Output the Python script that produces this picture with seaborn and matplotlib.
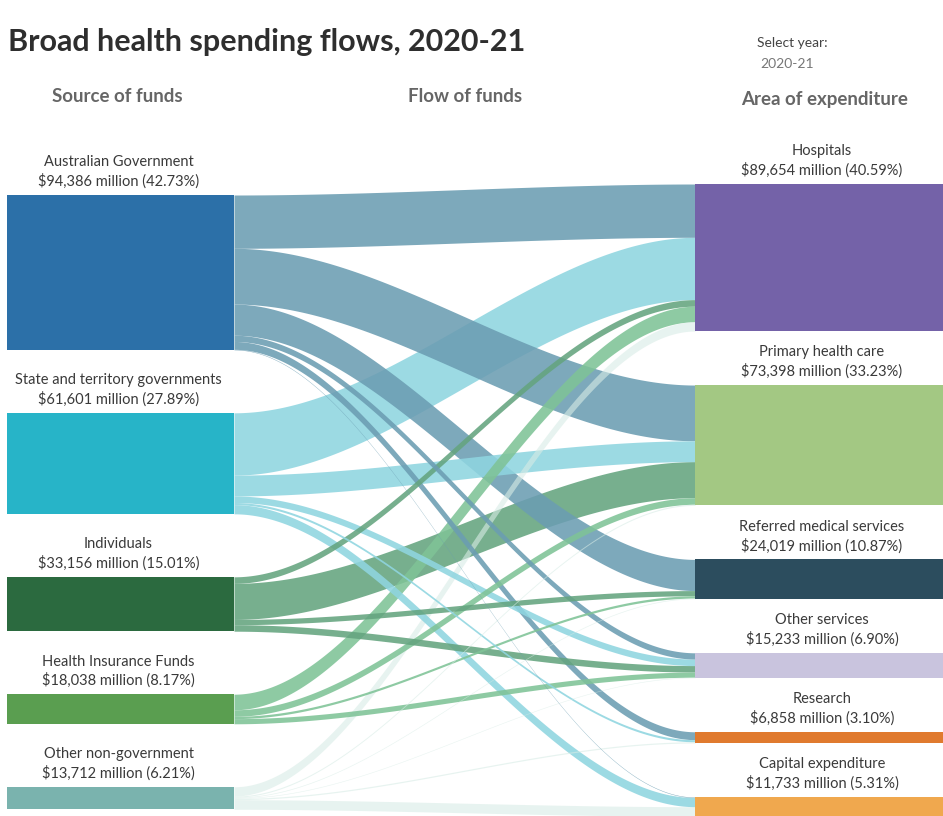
import numpy as np
import matplotlib.pyplot as plt
import seaborn as sns

sns.set_theme(style="white")
plt.rcParams['font.family'] = ['Lato', 'DejaVu Sans']

# source of funds
sources = ['Australian Government', 'State and territory governments', 'Individuals',
           'Health Insurance Funds', 'Other non-government']
source_values = [94386, 61601, 33156, 18038, 13712]
source_colors = ['#2c70a8', '#27b4c8', '#2b6a3f', '#5a9e50', '#7ab3ae']
flow_colors = ['#6b9db2', '#8fd5e0', '#64a47f', '#7fc397', '#d8ece6']

# area of expenditure
targets = ['Hospitals', 'Primary health care', 'Referred medical services',
           'Other services', 'Research', 'Capital expenditure']
target_values = [89654, 73398, 24019, 15233, 6858, 11733]
target_colors = ['#7462a8', '#a3c883', '#2c4d5e', '#c9c4de', '#e07a2e', '#f0a84e']

# flows ($m): rows = sources, columns = targets
flow_ag = [32500, 34000, 19000, 3800, 4800, 286]
flow_state = [38000, 12700, 0, 4000, 1300, 5601]
flow_indiv = [4000, 22000, 3200, 3956, 0, 0]
flow_hif = [9500, 4000, 1400, 3138, 0, 0]
flow_other = [5654, 698, 419, 339, 758, 5844]
flows = np.array([flow_ag, flow_state, flow_indiv, flow_hif, flow_other], dtype=float)

total_src = sum(source_values)
total_tgt = sum(target_values)

fig = plt.figure(figsize=(9.43, 8.16), dpi=100)
ax = fig.add_axes([0, 0, 1, 1])
ax.set_xlim(0, 943)
ax.set_ylim(816, 0)
ax.axis('off')

k = 0.00164
lx0, lx1 = 7, 234
rx0, rx1 = 695, 943
gap_l, gap_r = 63, 54

# node positions
src_top = []
y = 195
for v in source_values:
    src_top.append(y)
    y += v * k + gap_l
tgt_top = []
y = 184
for v in target_values:
    tgt_top.append(y)
    y += v * k + gap_r

# flow band positions
src_off = np.array(src_top, dtype=float)
tgt_off = np.array(tgt_top, dtype=float)
bands = []
for i in range(len(sources)):
    for j in range(len(targets)):
        v = flows[i, j]
        if v <= 0:
            continue
        bands.append([v, i, j, src_off[i], 0.0])
        src_off[i] += v * k
for j in range(len(targets)):
    for i in range(len(sources)):
        for b in bands:
            if b[1] == i and b[2] == j:
                b[4] = tgt_off[j]
                tgt_off[j] += b[0] * k

xs = np.linspace(lx1, rx0, 200)
t = (xs - lx1) / (rx0 - lx1)
s = 3 * t ** 2 - 2 * t ** 3
for v, i, j, sy, ty in sorted(bands, key=lambda b: -b[0]):
    h = v * k
    top = sy + (ty - sy) * s
    a = 0.6 if i == 4 else 0.88
    ax.fill_between(xs, top, top + h, color=flow_colors[i], alpha=a, lw=0)

# nodes and labels
for i, name in enumerate(sources):
    h = source_values[i] * k
    ax.add_patch(plt.Rectangle((lx0, src_top[i]), lx1 - lx0, h, color=source_colors[i], lw=0))
    pct = source_values[i] / total_src * 100
    ax.text((lx0 + lx1) / 2 - 2, src_top[i] - 6,
            f"{name}\n${source_values[i]:,} million ({pct:.2f}%)",
            ha='center', va='bottom', fontsize=10.5, color='#3a3a3a', linespacing=1.35)
for j, name in enumerate(targets):
    h = target_values[j] * k
    ax.add_patch(plt.Rectangle((rx0, tgt_top[j]), rx1 - rx0, h, color=target_colors[j], lw=0))
    pct = target_values[j] / total_tgt * 100
    ax.text(822, tgt_top[j] - 6,
            f"{name}\n${target_values[j]:,} million ({pct:.2f}%)",
            ha='center', va='bottom', fontsize=10.5, color='#3a3a3a', linespacing=1.35)

# titles
ax.text(8, 42, 'Broad health spending flows, 2020-21', fontsize=22, fontweight='bold',
        color='#2e2e2e', va='center', ha='left')
ax.text(757, 43, 'Select year:', fontsize=10, color='#444444', va='center')
ax.text(760, 64, '2020-21', fontsize=10, color='#777777', va='center')
ax.text(117, 97, 'Source of funds', fontsize=13.5, fontweight='bold', color='#666666', ha='center', va='center')
ax.text(465, 97, 'Flow of funds', fontsize=13.5, fontweight='bold', color='#666666', ha='center', va='center')
ax.text(825, 100, 'Area of expenditure', fontsize=13.5, fontweight='bold', color='#666666', ha='center', va='center')

fig.savefig('out.png', dpi=100)
